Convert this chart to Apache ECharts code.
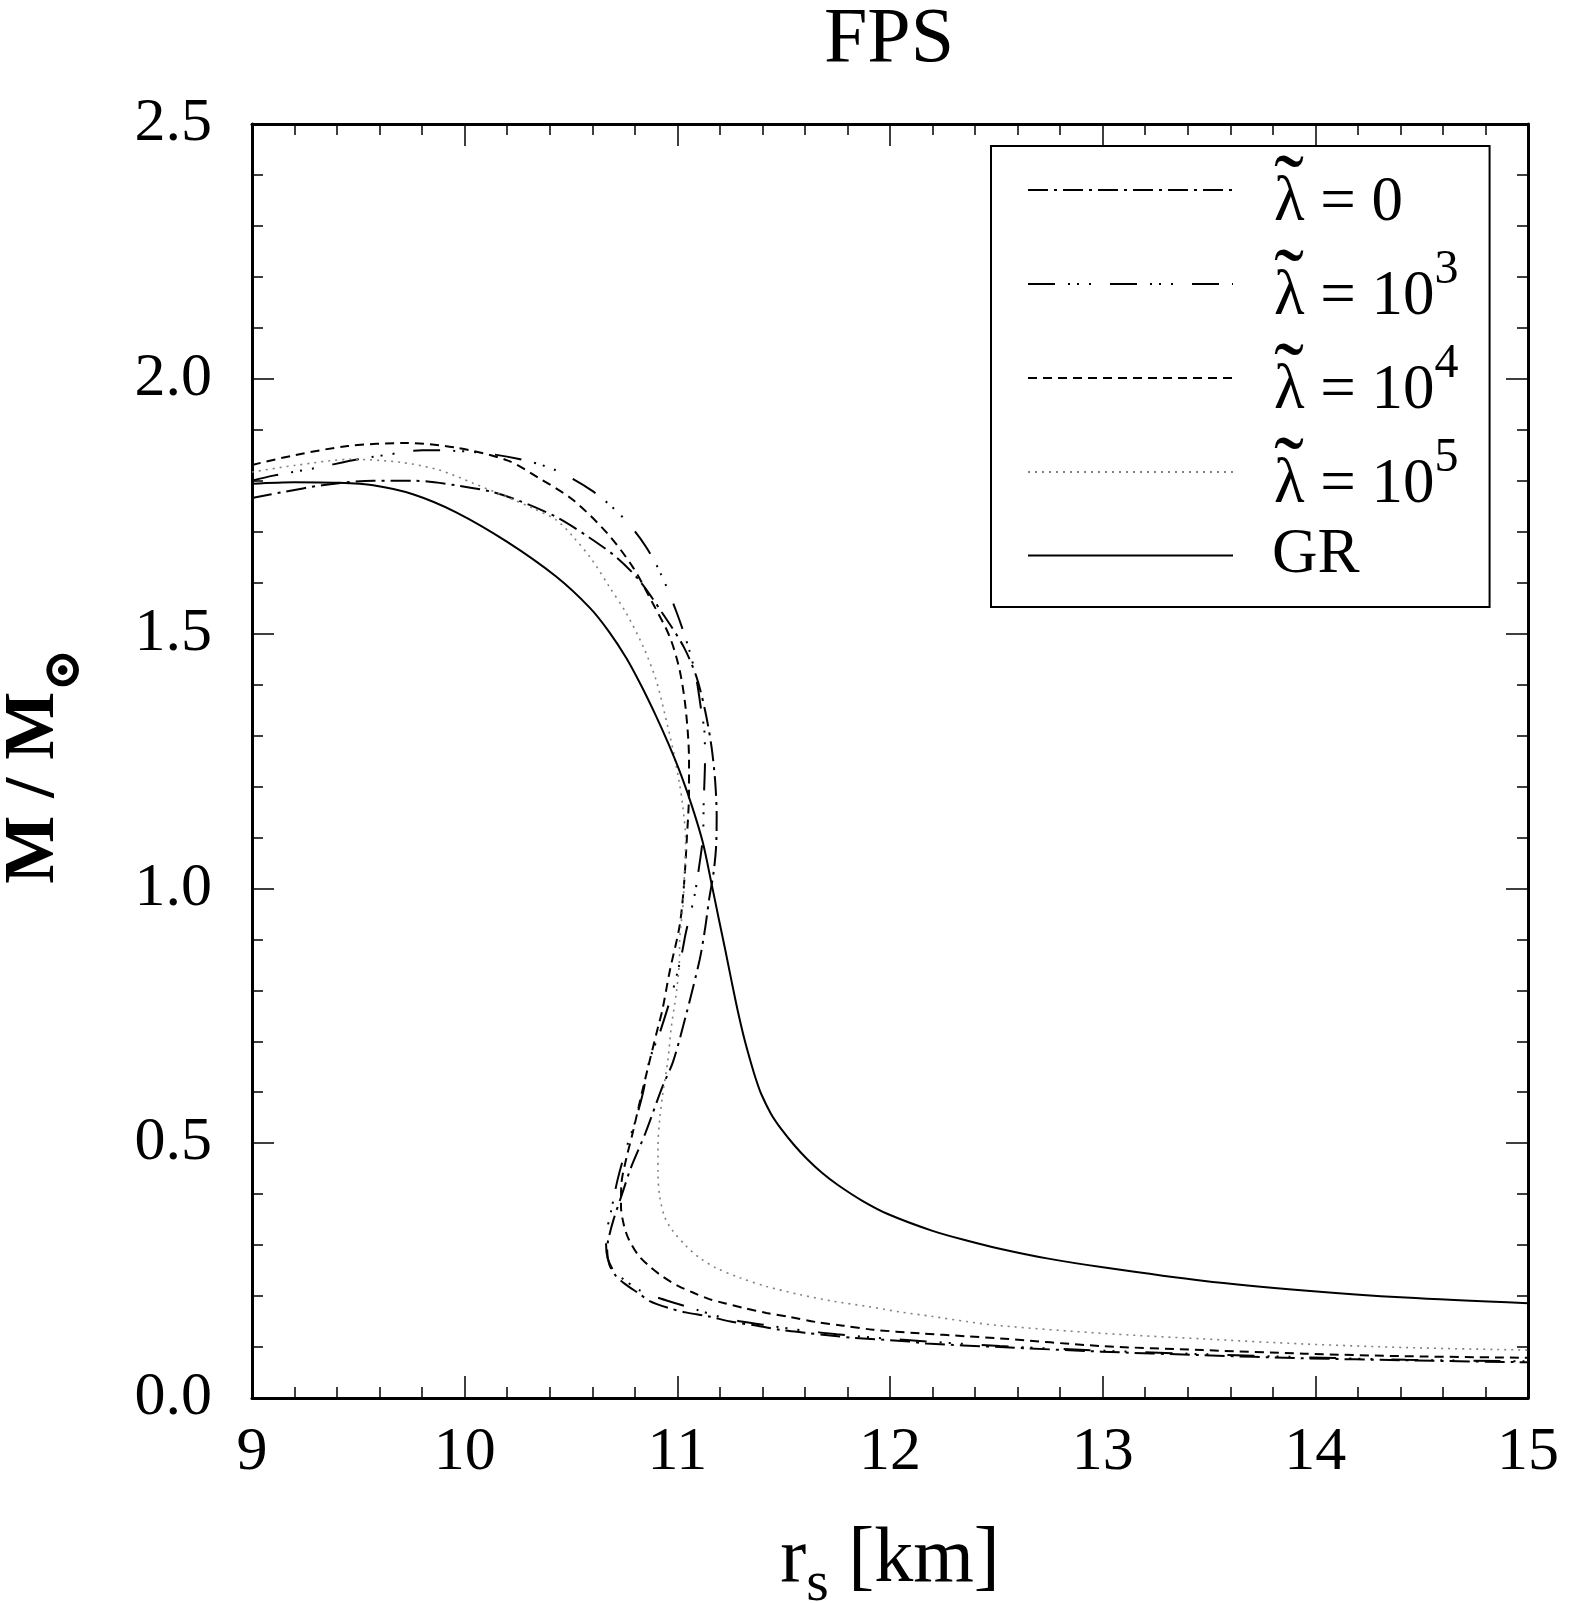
<!DOCTYPE html>
<html>
<head>
<meta charset="utf-8">
<script src="https://cdn.jsdelivr.net/npm/echarts@6/dist/echarts.min.js"></script>
<style>
  html, body { margin: 0; padding: 0; background: #fff; }
  #chart { width: 1569px; height: 1603px; }
</style>
</head>
<body>
<div id="chart"></div>
<script>
// radius r_s [km] and mass M/Msun, one pair of arrays per curve
var rL0 = [9.00, 9.15, 9.33, 9.57, 9.76, 9.96, 10.13, 10.26, 10.43, 10.57, 10.71, 10.82, 10.93, 11.03, 11.09, 11.13, 11.16, 11.178, 11.185, 11.182, 11.17, 11.15, 11.13, 11.105, 11.04, 10.98, 10.93, 10.85, 10.78, 10.74, 10.70, 10.675, 10.67, 10.68, 10.71, 10.76, 10.82, 10.87, 10.956, 11.04, 11.15, 11.25, 11.387, 11.48, 11.6, 11.73, 11.83, 12.09, 12.17, 12.516, 12.993, 13.47, 13.947, 14.424, 15.0];
var mL0 = [1.766, 1.778, 1.791, 1.800, 1.800, 1.791, 1.778, 1.760, 1.729, 1.693, 1.651, 1.605, 1.540, 1.474, 1.415, 1.350, 1.280, 1.210, 1.140, 1.080, 1.030, 0.980, 0.920, 0.860, 0.75, 0.66, 0.611, 0.52, 0.45, 0.40, 0.35, 0.31, 0.29, 0.262, 0.24, 0.222, 0.205, 0.19, 0.177, 0.168, 0.160, 0.150, 0.141, 0.134, 0.128, 0.122, 0.118, 0.111, 0.107, 0.100, 0.091, 0.084, 0.078, 0.074, 0.070];

var rL3 = [9.00, 9.10, 9.30, 9.50, 9.70, 9.80, 10.05, 10.25, 10.42, 10.60, 10.744, 10.85, 10.925, 11.00, 11.058, 11.09, 11.11, 11.128, 11.13, 11.124, 11.12, 11.10, 11.08, 11.04, 11.02, 10.979, 10.92, 10.87, 10.838, 10.80, 10.76, 10.72, 10.69, 10.67, 10.665, 10.672, 10.70, 10.75, 10.82, 10.90, 11.00, 11.10, 11.21, 11.3, 11.45, 11.6, 11.75, 12.0, 12.516, 12.993, 13.47, 13.947, 14.424, 15.0];
var mL3 = [1.800, 1.810, 1.825, 1.842, 1.855, 1.860, 1.856, 1.843, 1.822, 1.780, 1.728, 1.672, 1.615, 1.538, 1.465, 1.41, 1.356, 1.304, 1.25, 1.17, 1.10, 1.036, 0.984, 0.913, 0.87, 0.80, 0.72, 0.664, 0.598, 0.54, 0.49, 0.43, 0.37, 0.33, 0.30, 0.275, 0.25, 0.232, 0.212, 0.198, 0.185, 0.172, 0.158, 0.150, 0.141, 0.132, 0.125, 0.116, 0.102, 0.093, 0.086, 0.080, 0.075, 0.072];

var rL4 = [9.00, 9.20, 9.45, 9.72, 9.96, 10.20, 10.35, 10.51, 10.67, 10.79, 10.885, 10.964, 11.011, 11.04, 11.055, 11.055, 11.045, 11.03, 11.01, 10.964, 10.93, 10.91, 10.873, 10.834, 10.79, 10.76, 10.737, 10.735, 10.75, 10.772, 10.815, 10.87, 10.932, 11.003, 11.073, 11.144, 11.222, 11.309, 11.419, 11.528, 11.654, 11.779, 11.92, 12.14, 12.36, 12.516, 12.993, 13.47, 13.947, 14.424, 15.0];
var mL4 = [1.831, 1.850, 1.868, 1.874, 1.865, 1.840, 1.805, 1.762, 1.697, 1.631, 1.559, 1.494, 1.428, 1.35, 1.25, 1.19, 1.10, 1.00, 0.925, 0.837, 0.762, 0.729, 0.667, 0.600, 0.52, 0.47, 0.42, 0.376, 0.337, 0.311, 0.281, 0.258, 0.238, 0.220, 0.207, 0.195, 0.186, 0.177, 0.167, 0.159, 0.149, 0.142, 0.134, 0.127, 0.121, 0.117, 0.102, 0.094, 0.087, 0.082, 0.079];

var rL5 = [9.00, 9.20, 9.47, 9.70, 9.88, 10.04, 10.20, 10.32, 10.43, 10.51, 10.60, 10.68, 10.76, 10.84, 10.90, 10.94, 10.98, 11.01, 11.026, 11.039, 11.034, 11.026, 11.011, 11.01, 10.995, 10.972, 10.956, 10.932, 10.917, 10.909, 10.909, 10.917, 10.94, 10.975, 11.042, 11.105, 11.183, 11.293, 11.419, 11.575, 11.732, 11.889, 12.046, 12.2, 12.36, 12.516, 12.993, 13.47, 13.947, 14.424, 15.0];
var mL5 = [1.817, 1.830, 1.842, 1.836, 1.821, 1.795, 1.768, 1.746, 1.723, 1.690, 1.644, 1.592, 1.540, 1.474, 1.409, 1.344, 1.272, 1.206, 1.160, 1.095, 1.030, 0.964, 0.899, 0.86, 0.794, 0.729, 0.664, 0.598, 0.546, 0.494, 0.441, 0.396, 0.356, 0.330, 0.298, 0.275, 0.255, 0.236, 0.219, 0.203, 0.190, 0.180, 0.169, 0.160, 0.150, 0.142, 0.127, 0.116, 0.106, 0.099, 0.094];

var rGR = [9.00, 9.20, 9.40, 9.57, 9.76, 9.96, 10.20, 10.43, 10.59, 10.68, 10.76, 10.83, 10.90, 10.96, 11.02, 11.07, 11.12, 11.163, 11.195, 11.226, 11.255, 11.284, 11.315, 11.346, 11.37, 11.394, 11.44, 11.49, 11.55, 11.61, 11.68, 11.755, 11.87, 11.995, 12.2, 12.36, 12.516, 12.738, 12.993, 13.47, 13.947, 14.424, 15.0];
var mGR = [1.794, 1.797, 1.796, 1.791, 1.773, 1.738, 1.680, 1.612, 1.550, 1.503, 1.452, 1.398, 1.338, 1.282, 1.220, 1.160, 1.090, 1.005, 0.940, 0.878, 0.818, 0.760, 0.705, 0.658, 0.625, 0.597, 0.558, 0.527, 0.496, 0.469, 0.442, 0.418, 0.387, 0.360, 0.328, 0.309, 0.293, 0.274, 0.257, 0.230, 0.211, 0.197, 0.186];

var names = ['l0', 'l3', 'l4', 'l5', 'GR'];
var legendText = {
  l0: '{t|˜}{l|λ}{a| = 0}',
  l3: '{t|˜}{l|λ}{a| = 10}{s|3}',
  l4: '{t|˜}{l|λ}{a| = 10}{s|4}',
  l5: '{t|˜}{l|λ}{a| = 10}{s|5}',
  GR: '{g|GR}'
};

function zip(xs, ys) {
  return xs.map(function (x, i) { return [x, ys[i]]; });
}

var serif = 'Liberation Serif';

function curve(name, xs, ys, dash, color, width) {
  return {
    name: name,
    type: 'line',
    data: zip(xs, ys),
    showSymbol: false,
    symbol: 'none',
    smooth: 0.3,
    clip: true,
    lineStyle: { color: color, width: width, type: dash },
    itemStyle: { color: color },
    emphasis: { disabled: true },
    animation: false
  };
}

var tickStyle = { color: '#000', width: 1.5 };

function xAx(pos, labels) {
  return {
    type: 'value', position: pos, min: 9, max: 15, interval: 1,
    axisLine: { show: true, onZero: false, lineStyle: { color: '#000', width: 3 } },
    axisTick: { show: true, inside: true, length: 22, lineStyle: tickStyle },
    minorTick: { show: true, splitNumber: 5, length: 11, lineStyle: tickStyle },
    splitLine: { show: false },
    axisLabel: { show: labels, margin: 24, fontFamily: serif, fontSize: 62, color: '#000' }
  };
}

function yAx(pos, labels) {
  return {
    type: 'value', position: pos, min: 0, max: 2.5, interval: 0.5,
    axisLine: { show: true, onZero: false, lineStyle: { color: '#000', width: 3 } },
    axisTick: { show: true, inside: true, length: 22, lineStyle: tickStyle },
    minorTick: { show: true, splitNumber: 5, length: 11, lineStyle: tickStyle },
    splitLine: { show: false },
    axisLabel: {
      show: labels, margin: 40, fontFamily: serif, fontSize: 62, color: '#000',
      formatter: function (v) { return v.toFixed(1); }
    }
  };
}

var xMain = xAx('bottom', true);
xMain.name = '{a|r}{s|s}{a| [km]}';
xMain.nameLocation = 'middle';
xMain.nameGap = 121;
xMain.nameTextStyle = {
  fontFamily: serif, color: '#000',
  rich: {
    a: { fontFamily: serif, fontSize: 78, lineHeight: 84, color: '#000' },
    s: { fontFamily: serif, fontSize: 58, height: 36, lineHeight: 20, verticalAlign: 'bottom', color: '#000' }
  }
};

var yMain = yAx('left', true);
yMain.name = '{a|M / M}{s|⊙}';
yMain.nameLocation = 'middle';
yMain.nameGap = 176;
yMain.nameRotate = 90;
yMain.nameTextStyle = {
  fontFamily: serif, color: '#000', padding: [0, 10, 0, 0],
  rich: {
    a: { fontFamily: serif, fontWeight: 'bold', fontSize: 72, lineHeight: 84, color: '#000' },
    s: { fontFamily: 'DejaVu Serif', fontWeight: 'bold', fontSize: 52, height: 22, lineHeight: 20, verticalAlign: 'bottom', color: '#000' }
  }
};

var legendRich = {
  t: { fontFamily: serif, fontSize: 90, width: 0.001, height: 78, lineHeight: 20, verticalAlign: 'top', padding: [0, 0, 0, 36], color: '#000' },
  l: { fontFamily: serif, fontSize: 63, height: 46, lineHeight: 72, verticalAlign: 'bottom', color: '#000' },
  a: { fontFamily: serif, fontSize: 63, height: 46, lineHeight: 72, verticalAlign: 'bottom', color: '#000' },
  s: { fontFamily: serif, fontSize: 48, height: 44, lineHeight: 20, verticalAlign: 'top', color: '#000' },
  g: { fontFamily: serif, fontSize: 63, lineHeight: 86, padding: [0, 0, 0, 34], color: '#000' }
};

var chart = echarts.init(document.getElementById('chart'), null, { renderer: 'canvas' });
chart.setOption({
  backgroundColor: '#fff',
  animation: false,
  title: {
    text: 'FPS', left: 884, top: -3, textAlign: 'center',
    textStyle: { fontFamily: serif, fontWeight: 'normal', fontSize: 78, lineHeight: 78, color: '#000' }
  },
  grid: { left: 252, top: 124, width: 1276, height: 1274, outerBoundsMode: 'none', containLabel: false },
  xAxis: [xMain, xAx('top', false)],
  yAxis: [yMain, yAx('right', false)],
  legend: {
    orient: 'vertical', left: 991, top: 146,
    data: names, selectedMode: false,
    itemWidth: 205, itemHeight: 14, itemGap: 4,
    padding: [2, 31, 20, 36],
    borderColor: '#000', borderWidth: 2, backgroundColor: '#fff',
    itemStyle: { color: 'rgba(0,0,0,0)', borderColor: 'rgba(0,0,0,0)', borderWidth: 0, opacity: 0 },
    formatter: function (n) { return legendText[n]; },
    textStyle: { fontFamily: serif, fontSize: 63, color: '#000', rich: legendRich }
  },
  series: [
    curve('l0', rL0, mL0, [20, 6, 3, 6], '#000', 2),
    curve('l3', rL3, mL3, [27, 13, 2, 7, 2, 10, 2, 19], '#000', 2),
    curve('l4', rL4, mL4, [9, 6], '#000', 2),
    curve('l5', rL5, mL5, [2, 5], '#808080', 1.6),
    curve('GR', rGR, mGR, 'solid', '#000', 2)
  ]
});
</script>
</body>
</html>
